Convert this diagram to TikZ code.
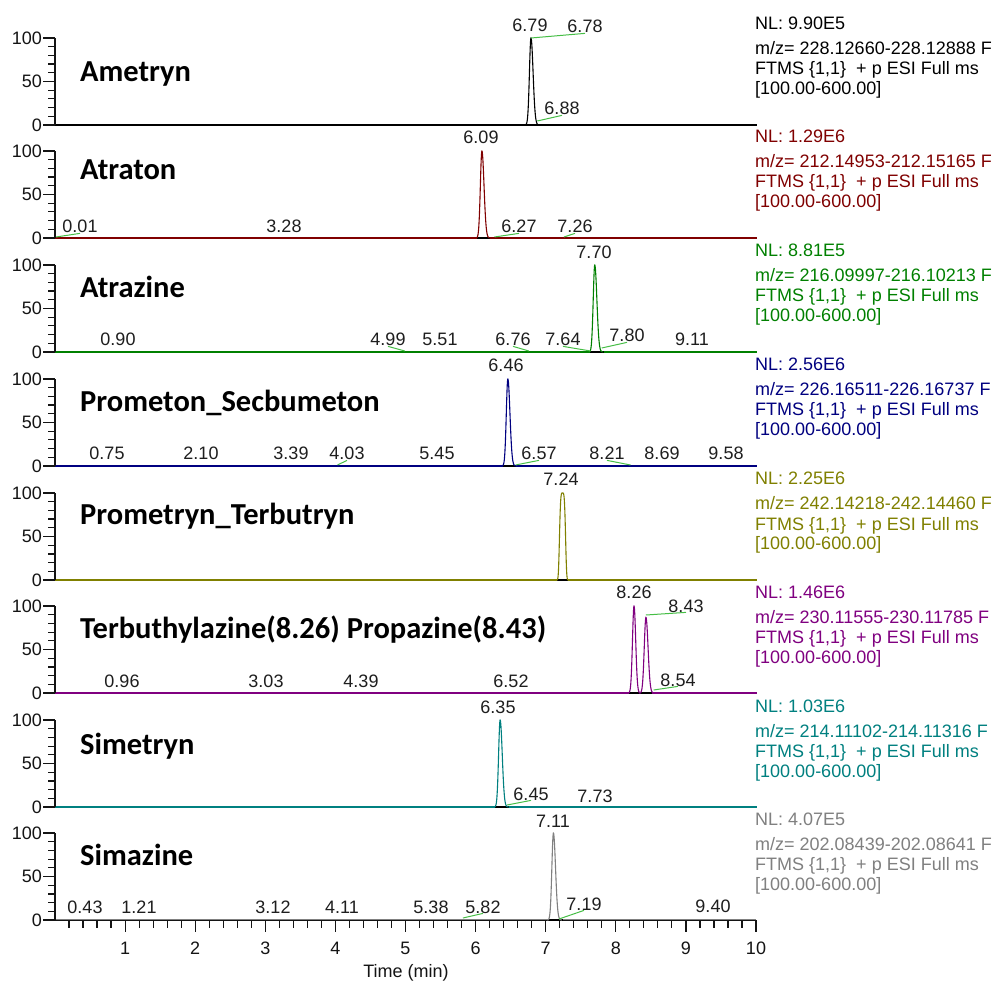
\documentclass[tikz,border=0pt]{standalone}
\usepackage{fontspec}
\setmainfont{Liberation Sans}
\newfontfamily\namefont{Carlito}
\definecolor{cAme}{RGB}{0,0,0}
\definecolor{cAtn}{RGB}{128,0,0}
\definecolor{cAtz}{RGB}{0,128,0}
\definecolor{cPrm}{RGB}{0,0,128}
\definecolor{cPry}{RGB}{128,128,0}
\definecolor{cTer}{RGB}{128,0,128}
\definecolor{cSmt}{RGB}{0,128,128}
\definecolor{cSmz}{RGB}{128,128,128}
\definecolor{lbl}{RGB}{30,30,30}
\definecolor{axc}{RGB}{20,20,20}
\definecolor{glin}{RGB}{70,190,70}
% gaussian peak: #1 baseline y, #2 centre (min), #3 height (%), #4 sigma left, #5 sigma right
\newcommand\gpk[5]{%
  \draw[trace] plot[domain=#2-4*#4:#2, samples=30, smooth, variable=\xx]
    ({55+70.1*\xx},{#1-0.87*#3*exp(-0.5*((\xx-#2)/#4)*((\xx-#2)/#4))})
    -- plot[domain=#2:#2+4*#5, samples=30, smooth, variable=\xx]
    ({55+70.1*\xx},{#1-0.87*#3*exp(-0.5*((\xx-#2)/#5)*((\xx-#2)/#5))});
}
% integration base segment
\newcommand\ibase[3]{\draw[line width=1.2pt,black] ({55+70.1*#2},#1) -- ({55+70.1*#3},#1);}
% y axis of one panel: #1 baseline, #2 name prefix
\newcommand\yax[2]{%
  \draw[axis] (55,#1) -- (55,#1-87);
  \foreach \k in {1,...,9} \draw[axis] (48,{#1-8.7*\k}) -- (55,{#1-8.7*\k});
  \draw[axis] (43,#1) -- (55,#1);
  \draw[axis] (43,#1-43.5) -- (55,#1-43.5);
  \draw[axis] (43,#1-87) -- (55,#1-87);
  \node[tl,anchor=east] (#2y0) at (42,#1) {0};
  \node[tl,anchor=east] (#2y50) at (42,#1-43.5) {50};
  \node[tl,anchor=east] (#2y100) at (42,#1-87) {100};
}
% info block: #1 baseline, #2 colour, #3 NL, #4 m/z range, #5 prefix
\newcommand\infoblk[5]{%
  \node[info,text=#2] (#5nl) at (755,#1-95) {NL: #3};
  \node[info,text=#2] (#5mz) at (755,#1-70) {m/z= #4 F};
  \node[info,text=#2] (#5ft) at (755,#1-50) {FTMS \{1,1\}\ \ + p ESI Full ms};
  \node[info,text=#2] (#5rg) at (755,#1-30) {[100.00-600.00]};
}
\begin{document}
\begin{tikzpicture}[x=1pt,y=-1pt,
  axis/.style={line width=1.2pt,draw=axc},
  trace/.style={line width=1.1pt},
  glink/.style={draw=glin,line width=1pt},
  pl/.style={inner sep=0pt,anchor=base,text=lbl,font=\fontsize{18}{20}\selectfont},
  tl/.style={inner sep=0pt,text=axc,font=\fontsize{18}{20}\selectfont},
  nm/.style={inner sep=0pt,anchor=base west,text=black,font=\namefont\bfseries\fontsize{30.5}{33}\selectfont},
  info/.style={inner sep=0pt,anchor=base west,font=\fontsize{18}{20}\selectfont}]
\fill[white] (0,0) rectangle (994,981);
\useasboundingbox (0,0) rectangle (994,981);

% ---------- Panel 1: Ametryn ----------
\begin{scope}[draw=cAme]
\draw[trace,draw=cAme] (55,125) -- (757,125);
\ibase{125}{6.72}{6.92}
\gpk{125}{6.79}{100}{0.022}{0.03}
\end{scope}
\yax{125}{a}
\node[nm] (nAme) at (80,82) {Ametryn};
\node[pl] (a679) at (530,32) {6.79};
\node[pl] (a678) at (585,33) {6.78};
\node[pl] (a688) at (562,115) {6.88};
\coordinate (a678p) at ({55+70.1*6.79},38);
\coordinate (a688p) at ({55+70.1*6.88},121);
\draw[glink] (a678p) -- (a678.south);
\draw[glink] (a688p) -- (a688.south);
\infoblk{125}{cAme}{9.90E5}{228.12660-228.12888}{a}

% ---------- Panel 2: Atraton ----------
\draw[trace,draw=cAtn] (55,238) -- (757,238);
\ibase{238}{6.02}{6.2}
\begin{scope}[draw=cAtn]\gpk{238}{6.09}{100}{0.022}{0.03}\end{scope}
\yax{238}{b}
\node[nm] (nAtn) at (80,180) {Atraton};
\node[pl] (b001) at (80,233) {0.01};
\node[pl] (b328) at (284,233) {3.28};
\node[pl] (b609) at (481,144) {6.09};
\node[pl] (b627) at (519,233) {6.27};
\node[pl] (b726) at (575,233) {7.26};
\coordinate (b001p) at (56,237);
\coordinate (b627p) at ({55+70.1*6.27},237);
\coordinate (b726p) at ({55+70.1*7.26},237);
\draw[glink] (b001p) -- (b001.south);
\draw[glink] (b627p) -- (b627.south);
\draw[glink] (b726p) -- (b726.south);
\infoblk{238}{cAtn}{1.29E6}{212.14953-212.15165}{b}

% ---------- Panel 3: Atrazine ----------
\draw[trace,draw=cAtz] (55,352) -- (757,352);
\ibase{352}{7.63}{7.83}
\begin{scope}[draw=cAtz]\gpk{352}{7.70}{100}{0.022}{0.03}\end{scope}
\yax{352}{c}
\node[nm] (nAtz) at (80,298) {Atrazine};
\node[pl] (c090) at (118,346) {0.90};
\node[pl] (c499) at (388,346) {4.99};
\node[pl] (c551) at (440,346) {5.51};
\node[pl] (c676) at (513,346) {6.76};
\node[pl] (c764) at (563,346) {7.64};
\node[pl] (c770) at (594,259) {7.70};
\node[pl] (c780) at (627,342) {7.80};
\node[pl] (c911) at (692,346) {9.11};
\coordinate (c499p) at ({55+70.1*4.99},351);
\coordinate (c676p) at ({55+70.1*6.76},351);
\coordinate (c764p) at ({55+70.1*7.64},351);
\coordinate (c780p) at ({55+70.1*7.80},348);
\draw[glink] (c499p) -- (c499.south);
\draw[glink] (c676p) -- (c676.south);
\draw[glink] (c764p) -- (c764.south);
\draw[glink] (c780p) -- (c780.south);
\infoblk{352}{cAtz}{8.81E5}{216.09997-216.10213}{c}

% ---------- Panel 4: Prometon_Secbumeton ----------
\draw[trace,draw=cPrm] (55,466) -- (757,466);
\ibase{466}{6.39}{6.58}
\begin{scope}[draw=cPrm]\gpk{466}{6.46}{100}{0.022}{0.03}\end{scope}
\yax{466}{d}
\node[nm] (nPrm) at (80,412) {Prometon\_Secbumeton};
\node[pl] (d075) at (107,460) {0.75};
\node[pl] (d210) at (201,460) {2.10};
\node[pl] (d339) at (291,460) {3.39};
\node[pl] (d403) at (347,460) {4.03};
\node[pl] (d545) at (437,460) {5.45};
\node[pl] (d646) at (506,372) {6.46};
\node[pl] (d657) at (539,460) {6.57};
\node[pl] (d821) at (607,460) {8.21};
\node[pl] (d869) at (662,460) {8.69};
\node[pl] (d958) at (726,460) {9.58};
\coordinate (d403p) at ({55+70.1*4.03},465);
\coordinate (d657p) at ({55+70.1*6.57},465);
\coordinate (d821p) at ({55+70.1*8.21},465);
\draw[glink] (d403p) -- (d403.south);
\draw[glink] (d657p) -- (d657.south);
\draw[glink] (d821p) -- (d821.south);
\infoblk{466}{cPrm}{2.56E6}{226.16511-226.16737}{d}

% ---------- Panel 5: Prometryn_Terbutryn ----------
\draw[trace,draw=cPry] (55,580) -- (757,580);
\ibase{580}{7.16}{7.32}
\draw[trace,draw=cPry] plot[domain=7.16:7.32, samples=50, smooth, variable=\xx]
  ({55+70.1*\xx},{580-87*exp(-0.5*(((\xx-7.24)/0.04)*((\xx-7.24)/0.04))*(((\xx-7.24)/0.04)*((\xx-7.24)/0.04)))});
\yax{580}{e}
\node[nm] (nPry) at (80,525) {Prometryn\_Terbutryn};
\node[pl] (e724) at (561,486) {7.24};
\infoblk{580}{cPry}{2.25E6}{242.14218-242.14460}{e}

% ---------- Panel 6: Terbuthylazine / Propazine ----------
\draw[trace,draw=cTer] (55,693) -- (757,693);
\ibase{693}{8.19}{8.52}
\begin{scope}[draw=cTer]
\gpk{693}{8.26}{100}{0.022}{0.024}
\gpk{693}{8.43}{87}{0.024}{0.03}
\end{scope}
\yax{693}{f}
\node[nm] (nTer) at (80,638) {Terbuthylazine(8.26) Propazine(8.43)};
\node[pl] (f096) at (122,687) {0.96};
\node[pl] (f303) at (266,687) {3.03};
\node[pl] (f439) at (361,687) {4.39};
\node[pl] (f652) at (511,687) {6.52};
\node[pl] (f826) at (634,598) {8.26};
\node[pl] (f843) at (686,612) {8.43};
\node[pl] (f854) at (678,686) {8.54};
\coordinate (f843p) at ({55+70.1*8.43},615);
\coordinate (f854p) at ({55+70.1*8.54},690);
\draw[glink] (f843p) -- (f843.south);
\draw[glink] (f854p) -- (f854.south);
\infoblk{693}{cTer}{1.46E6}{230.11555-230.11785}{f}

% ---------- Panel 7: Simetryn ----------
\draw[trace,draw=cSmt] (55,807) -- (757,807);
\ibase{807}{6.28}{6.47}
\begin{scope}[draw=cSmt]\gpk{807}{6.35}{100}{0.022}{0.03}\end{scope}
\yax{807}{g}
\node[nm] (nSmt) at (80,754) {Simetryn};
\node[pl] (g635) at (498,713) {6.35};
\node[pl] (g645) at (531,800) {6.45};
\node[pl] (g773) at (595,802) {7.73};
\coordinate (g645p) at ({55+70.1*6.45},805);
\draw[glink] (g645p) -- (g645.south);
\infoblk{807}{cSmt}{1.03E6}{214.11102-214.11316}{g}

% ---------- Panel 8: Simazine + time axis ----------
\draw[axis] (55,920) -- (756,920);
\foreach \i in {1,...,50} \draw[axis] ({55+70.1*0.2*\i},920) -- ++(0,8);
\foreach \i in {1,...,10} {
  \draw[axis] ({55+70.1*\i},920) -- ++(0,12);
  \node[tl,anchor=base] (tx\i) at ({55+70.1*\i},954) {\i};
}
\node[tl,anchor=base] (tlab) at (406,977) {Time (min)};
\draw[trace,draw=cSmz] (55,919.5) -- (756,919.5);
\ibase{920}{7.04}{7.24}
\begin{scope}[draw=cSmz]\gpk{920}{7.11}{100}{0.022}{0.03}\end{scope}
\yax{920}{h}
\node[nm] (nSmz) at (80,865) {Simazine};
\node[pl] (h043) at (85,913) {0.43};
\node[pl] (h121) at (139,913) {1.21};
\node[pl] (h312) at (273,913) {3.12};
\node[pl] (h411) at (342,913) {4.11};
\node[pl] (h538) at (431,913) {5.38};
\node[pl] (h582) at (483,913) {5.82};
\node[pl] (h711) at (553,827) {7.11};
\node[pl] (h719) at (584,910) {7.19};
\node[pl] (h940) at (713,912) {9.40};
\coordinate (h582p) at ({55+70.1*5.82},918);
\coordinate (h719p) at ({55+70.1*7.19},919);
\draw[glink] (h582p) -- (h582.south);
\draw[glink] (h719p) -- (h719.south);
\infoblk{920}{cSmz}{4.07E5}{202.08439-202.08641}{h}
\end{tikzpicture}
\end{document}
